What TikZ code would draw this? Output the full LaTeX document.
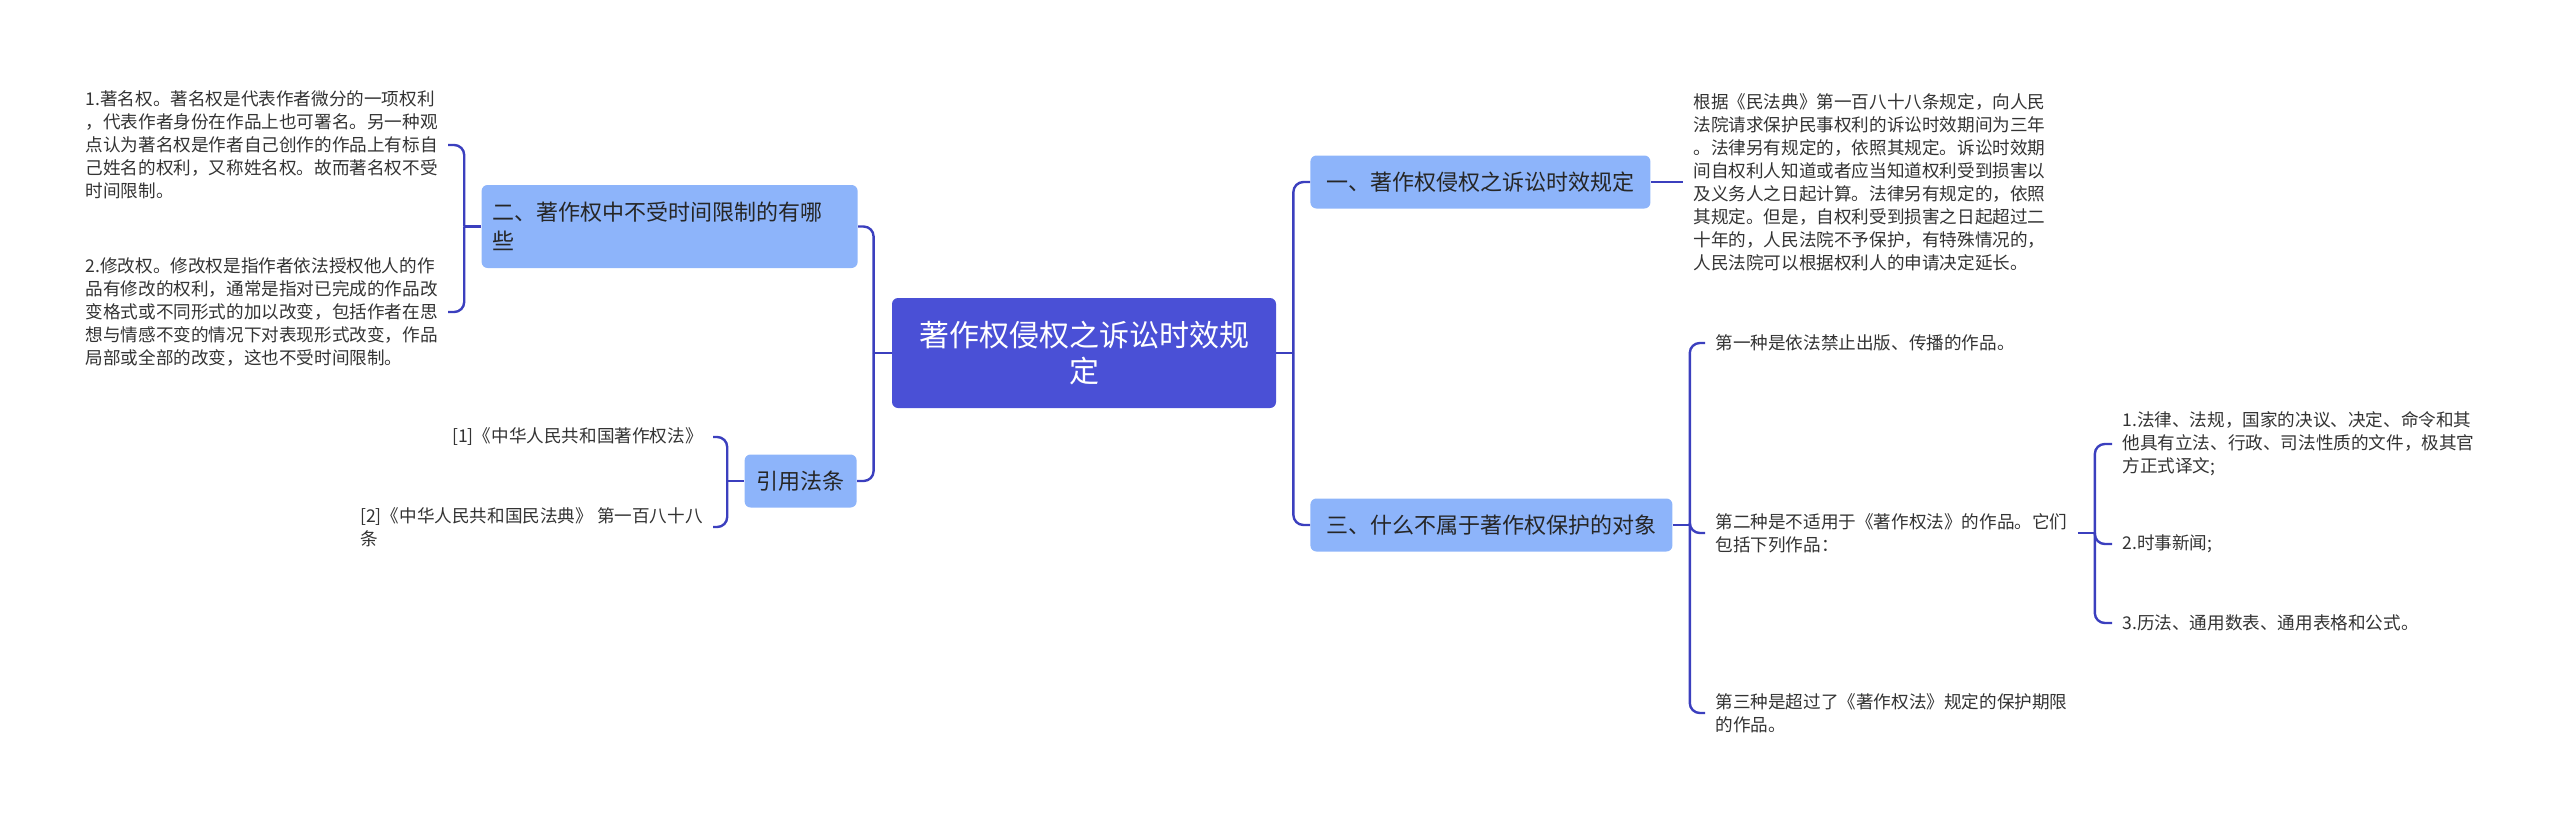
\documentclass[tikz,border=0pt]{standalone}
\usepackage{fontspec}
\setmainfont{Noto Sans CJK SC}
\definecolor{RootBlue}{RGB}{74,80,214}
\definecolor{TopicBlue}{RGB}{141,180,250}
\definecolor{LinkBlue}{RGB}{59,63,190}
\definecolor{LeafGray}{RGB}{51,51,51}
\usetikzlibrary{positioning}

\begin{document}
\begin{tikzpicture}[x=0.5pt,y=-0.5pt,
  root/.style={fill=RootBlue,text=white,rounded corners=3pt,align=center,
    font=\fontsize{15}{18}\selectfont,minimum width=192pt,minimum height=55pt},
  topic/.style={fill=TopicBlue,text=black!85,rounded corners=3pt,
    font=\fontsize{11}{14.5}\selectfont,inner xsep=8pt,minimum height=26.5pt},
  leaf/.style={text=LeafGray,align=left,font=\fontsize{8.8}{11.5}\selectfont,
    inner xsep=5pt,inner ysep=0pt},
  link/.style={draw=LinkBlue,line width=1.2pt,rounded corners=5pt}]
\useasboundingbox (0,0) rectangle (2560,819);

% centre
\node[root] (root) at (1084,353) {著作权侵权之诉讼时效规\\定};

% left topics
\node[topic,anchor=east,text width=177pt,align=left,inner xsep=5.5pt,
  minimum height=41.5pt] (b2) at (858,226.5) {二、著作权中不受时间限制的有哪\\些};
\node[topic,anchor=east,inner xsep=6pt] (b4) at (857,481) {引用法条};

% right topics
\node[topic,anchor=west] (b1) at (1310,182) {一、著作权侵权之诉讼时效规定};
\node[topic,anchor=west] (b3) at (1310,525) {三、什么不属于著作权保护的对象};

% leaves of b2
\node[leaf,anchor=east] (l1) at (448,145) {1.著名权。著名权是代表作者微分的一项权利\\，代表作者身份在作品上也可署名。另一种观\\点认为著名权是作者自己创作的作品上有标自\\己姓名的权利，又称姓名权。故而著名权不受\\时间限制。};
\node[leaf,anchor=east] (l2) at (448,312) {2.修改权。修改权是指作者依法授权他人的作\\品有修改的权利，通常是指对已完成的作品改\\变格式或不同形式的加以改变，包括作者在思\\想与情感不变的情况下对表现形式改变，作品\\局部或全部的改变，这也不受时间限制。};

% leaves of b4
\node[leaf,anchor=east] (r1) at (713,437) {[1]《中华人民共和国著作权法》};
\node[leaf,anchor=east] (r2) at (713,527) {[2]《中华人民共和国民法典》 第一百八十八\\条};

% leaf of b1
\node[leaf,anchor=west] (t1) at (1683,182) {根据《民法典》第一百八十八条规定，向人民\\法院请求保护民事权利的诉讼时效期间为三年\\。法律另有规定的，依照其规定。诉讼时效期\\间自权利人知道或者应当知道权利受到损害以\\及义务人之日起计算。法律另有规定的，依照\\其规定。但是，自权利受到损害之日起超过二\\十年的，人民法院不予保护，有特殊情况的，\\人民法院可以根据权利人的申请决定延长。};

% leaves of b3
\node[leaf,anchor=west] (k1) at (1705,343) {第一种是依法禁止出版、传播的作品。};
\node[leaf,anchor=west] (k2) at (1705,533) {第二种是不适用于《著作权法》的作品。它们\\包括下列作品：};
\node[leaf,anchor=west] (k3) at (1705,713) {第三种是超过了《著作权法》规定的保护期限\\的作品。};

% leaves of k2
\node[leaf,anchor=west] (s1) at (2112,444) {1.法律、法规，国家的决议、决定、命令和其\\他具有立法、行政、司法性质的文件，极其官\\方正式译文;};
\node[leaf,anchor=west] (s2) at (2112,544) {2.时事新闻;};
\node[leaf,anchor=west] (s3) at (2112,623) {3.历法、通用数表、通用表格和公式。};

% connectors
\draw[link] (root.west) -- ++(-18,0) coordinate (jl);
\foreach \n in {b2,b4} \draw[link] (jl) |- (\n.east);
\draw[link] (b2.west) -- ++(-17,0) coordinate (j2);
\foreach \n in {l1,l2} \draw[link] (j2) |- (\n.east);
\draw[link] (b4.west) -- ++(-17,0) coordinate (j4);
\foreach \n in {r1,r2} \draw[link] (j4) |- (\n.east);

\draw[link] (root.east) -- ++(17,0) coordinate (jr);
\foreach \n in {b1,b3} \draw[link] (jr) |- (\n.west);
\draw[link] (b1.east) -- (t1.west);
\draw[link] (b3.east) -- ++(17,0) coordinate (j3);
\foreach \n in {k1,k2,k3} \draw[link] (j3) |- (\n.west);
\draw[link] (k2.east) -- ++(17,0) coordinate (jk);
\foreach \n in {s1,s2,s3} \draw[link] (jk) |- (\n.west);
\end{tikzpicture}
\end{document}
